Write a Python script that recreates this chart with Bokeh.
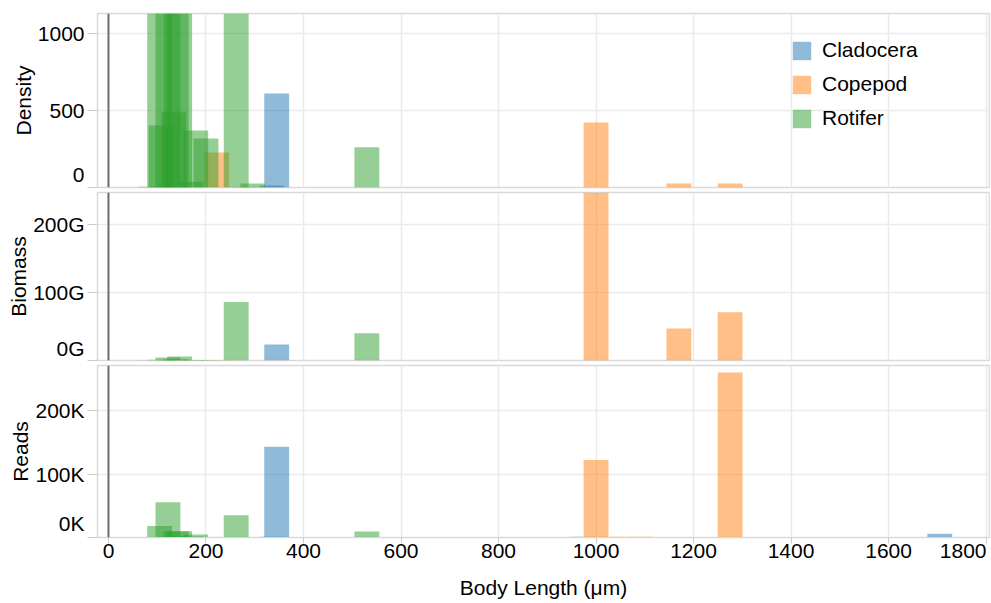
from bokeh.plotting import figure
from bokeh.layouts import column
from bokeh.models import ColumnDataSource, Range1d, FixedTicker, Span, Legend, LegendItem
from bokeh.embed import file_html
from bokeh.resources import INLINE

# ---- data ----
taxon = ["Rotifer", "Rotifer", "Rotifer", "Rotifer", "Rotifer", "Rotifer", "Rotifer",
         "Rotifer", "Rotifer", "Rotifer", "Rotifer", "Rotifer", "Rotifer", "Rotifer",
         "Cladocera", "Cladocera", "Cladocera", "Cladocera",
         "Copepod", "Copepod", "Copepod", "Copepod", "Copepod", "Copepod"]
body_length = [86, 105, 108, 122, 134, 139, 146, 169, 179, 200, 262, 280, 296, 530,
               335, 345, 971, 1705,
               222, 1000, 1033, 1090, 1170, 1275]
density = [5, 1500, 403, 2000, 489, 2600, 1800, 37, 370, 318, 1600, 3, 26, 262,
           13, 610, 0, 0,
           227, 422, 0, 0, 26, 26]
biomass = [0.4e9, 1.0e9, 0, 4.4e9, 0.6e9, 2.0e9, 6.0e9, 0.5e9, 0.8e9, 0.6e9, 86e9, 0, 0, 40e9,
           0, 23.7e9, 0, 0,
           0.8e9, 400e9, 0, 0, 47e9, 71e9]
reads = [0, 18000, 0, 55500, 1000, 10000, 10000, 1500, 4800, 0, 35000, 0, 0, 9500,
         1200, 143000, 1200, 6000,
         0, 122000, 1200, 1000, 0, 260000]

taxa = ["Cladocera", "Copepod", "Rotifer"]
colors = ["#1f77b4", "#ff7f0e", "#2ca02c"]

x_ticks = [0, 200, 400, 600, 800, 1000, 1200, 1400, 1600, 1800]
x_labels = ["0", "200", "400", "600", "800", "1000", "1200", "1400", "1600", "1800"]
density_ticks = [0, 500, 1000]
density_labels = ["0", "500", "1000"]
biomass_ticks = [0, 100e9, 200e9]
biomass_labels = ["0G", "100G", "200G"]
reads_ticks = [0, 100000, 200000]
reads_labels = ["0K", "100K", "200K"]

FONT = "Liberation Sans"
FS = "21px"
GRID = "#ebebeb"
BORDER = "#d9d9d9"
TICK = "#cccccc"

X0, X1 = -22.5, 1807
x_range = Range1d(X0, X1)
FRAME_W = 990 - 97 - 1


def make_panel(metric, title, y_end, ticks, labels, height, b_top, b_bottom, frame_h,
               flush_px, show_x):
    p = figure(width=990, height=height, x_range=x_range, y_range=Range1d(0, y_end),
               output_backend="svg", toolbar_location=None,
               min_border_left=97, min_border_right=1,
               min_border_top=b_top, min_border_bottom=b_bottom)
    renderers = {}
    for t, c in zip(taxa, colors):
        idx = [i for i, tt in enumerate(taxon) if tt == t]
        src = ColumnDataSource(dict(x=[body_length[i] for i in idx],
                                    y=[metric[i] for i in idx]))
        r = p.vbar(x="x", top="y", bottom=0, width=51, source=src,
                   fill_color=c, fill_alpha=0.5, line_alpha=0)
        renderers[t] = r
    p.add_layout(Span(location=0, dimension="height", line_color="#6e6e6e", line_width=2))

    p.outline_line_color = BORDER
    p.outline_line_width = 1.5
    p.background_fill_color = "white"
    p.border_fill_color = "white"

    p.xgrid.ticker = FixedTicker(ticks=x_ticks)
    p.ygrid.ticker = FixedTicker(ticks=ticks)
    p.xgrid.grid_line_color = GRID
    p.ygrid.grid_line_color = GRID
    p.xgrid.grid_line_width = 1.5
    p.ygrid.grid_line_width = 1.5

    # the bottom label sits flush inside the panel (as in the reference):
    # label positions are shifted, tick marks stay at the real values
    v0 = int(round(y_end * flush_px / frame_h))
    ya = p.yaxis[0]
    ya.ticker = FixedTicker(ticks=[v0] + list(ticks[1:]), minor_ticks=list(ticks))
    overrides = {tk: lb for tk, lb in zip(ticks[1:], labels[1:])}
    overrides[v0] = labels[0]
    ya.major_label_overrides = overrides
    ya.axis_label = title
    ya.axis_label_text_font = FONT
    ya.axis_label_text_font_size = FS
    ya.axis_label_text_font_style = "normal"
    ya.axis_label_text_color = "black"
    ya.axis_label_standoff = 0
    ya.major_label_text_font = FONT
    ya.major_label_text_font_size = FS
    ya.major_label_text_color = "black"
    ya.major_label_standoff = 3
    ya.major_tick_out = 0
    ya.major_tick_in = 0
    ya.major_tick_line_color = None
    ya.minor_tick_out = 10
    ya.minor_tick_in = 0
    ya.minor_tick_line_color = TICK
    ya.axis_line_color = BORDER

    xa = p.xaxis[0]
    if show_x:
        x_last = int(round(x_ticks[-1] - 23 * (X1 - X0) / FRAME_W))
        xa.ticker = FixedTicker(ticks=x_ticks[:-1] + [x_last], minor_ticks=x_ticks)
        xo = {tk: lb for tk, lb in zip(x_ticks[:-1], x_labels[:-1])}
        xo[x_last] = x_labels[-1]
        xa.major_label_overrides = xo
        xa.axis_label = "Body Length (μm)"
        xa.axis_label_text_font = FONT
        xa.axis_label_text_font_size = FS
        xa.axis_label_text_font_style = "normal"
        xa.axis_label_text_color = "black"
        xa.axis_label_standoff = 15
        xa.major_label_text_font = FONT
        xa.major_label_text_font_size = FS
        xa.major_label_text_color = "black"
        xa.major_label_standoff = 0
        xa.major_tick_out = 0
        xa.major_tick_in = 0
        xa.major_tick_line_color = None
        xa.minor_tick_out = 6
        xa.minor_tick_in = 0
        xa.minor_tick_line_color = TICK
        xa.axis_line_color = BORDER
    else:
        xa.visible = False
    return p, renderers


p1, r1 = make_panel(density, "Density", 1130, density_ticks, density_labels,
                    189, 13, 2, 174, 12, False)
p2, r2 = make_panel(biomass, "Biomass", 247e9, biomass_ticks, biomass_labels,
                    173, 3, 2, 168, 12, False)
p3, r3 = make_panel(reads, "Reads", 271000, reads_ticks, reads_labels,
                    240, 3, 65, 172, 14, True)

legend = Legend(items=[LegendItem(label=t, renderers=[r1[t]]) for t in taxa],
                location=(693, 57), glyph_width=23, glyph_height=23, label_height=23,
                spacing=10, padding=0, margin=0, label_standoff=9,
                label_text_font=FONT, label_text_font_size=FS, label_text_color="black",
                border_line_alpha=0, background_fill_alpha=0)
p1.add_layout(legend)

layout = column(p1, p2, p3, spacing=0)

with open("out.html", "w") as f:
    f.write(file_html(layout, INLINE))
